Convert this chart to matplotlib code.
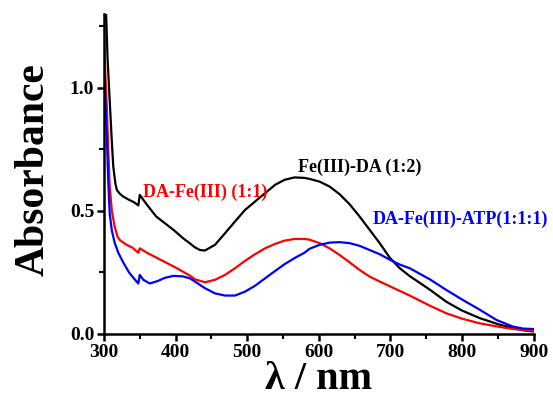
import matplotlib
matplotlib.use("Agg")
import matplotlib.pyplot as plt
from matplotlib.ticker import MultipleLocator

wl_black = [300, 303, 305, 308, 311, 313, 316, 318, 322, 327, 335, 342, 348, 350, 360, 373, 385, 397, 410, 420, 427, 434, 441, 455, 469, 483, 497, 511, 525, 539, 552, 566, 580, 587, 601, 615, 629, 643, 657, 671, 685, 699, 713, 727, 755, 778, 800, 825, 850, 871, 885, 900]
abs_black = [1.6, 1.3, 1.12, 0.95, 0.78, 0.68, 0.61, 0.585, 0.57, 0.558, 0.545, 0.535, 0.522, 0.565, 0.525, 0.477, 0.45, 0.423, 0.39, 0.368, 0.352, 0.341, 0.339, 0.362, 0.409, 0.457, 0.504, 0.538, 0.572, 0.606, 0.626, 0.636, 0.634, 0.63, 0.619, 0.599, 0.568, 0.527, 0.477, 0.423, 0.369, 0.31, 0.267, 0.235, 0.18, 0.131, 0.095, 0.064, 0.04, 0.024, 0.015, 0.01]

wl_red = [300, 302, 304, 306, 308, 311, 315, 319, 322, 330, 340, 348, 350, 360, 380, 400, 420, 427, 441, 455, 469, 483, 497, 511, 525, 539, 552, 566, 580, 587, 601, 615, 629, 643, 657, 671, 685, 699, 713, 727, 755, 778, 800, 825, 850, 871, 900]
abs_red = [1.2, 1.05, 0.92, 0.75, 0.6, 0.5, 0.435, 0.395, 0.382, 0.365, 0.35, 0.33, 0.348, 0.33, 0.3, 0.27, 0.237, 0.222, 0.21, 0.22, 0.24, 0.267, 0.297, 0.324, 0.348, 0.366, 0.379, 0.386, 0.386, 0.383, 0.369, 0.348, 0.321, 0.291, 0.26, 0.233, 0.213, 0.194, 0.175, 0.156, 0.115, 0.084, 0.062, 0.043, 0.03, 0.02, 0.013]

wl_blue = [300, 302, 304, 306, 308, 311, 315, 320, 327, 335, 342, 348, 350, 355, 364, 375, 385, 397, 410, 420, 427, 441, 455, 469, 483, 497, 511, 525, 539, 552, 566, 580, 587, 601, 615, 629, 643, 657, 671, 685, 699, 713, 727, 755, 778, 800, 825, 848, 871, 885, 900]
abs_blue = [1.09, 0.95, 0.8, 0.62, 0.49, 0.42, 0.37, 0.33, 0.29, 0.25, 0.225, 0.205, 0.24, 0.22, 0.205, 0.215, 0.228, 0.236, 0.234, 0.226, 0.213, 0.186, 0.165, 0.156, 0.156, 0.172, 0.196, 0.226, 0.256, 0.283, 0.308, 0.33, 0.346, 0.362, 0.371, 0.373, 0.369, 0.358, 0.341, 0.324, 0.302, 0.282, 0.267, 0.222, 0.179, 0.14, 0.098, 0.057, 0.03, 0.022, 0.02]

labels = ["Fe(III)-DA (1:2)", "DA-Fe(III) (1:1)", "DA-Fe(III)-ATP(1:1:1)"]

plt.rcParams['font.family'] = ['Liberation Serif', 'DejaVu Serif']
plt.rcParams['font.weight'] = 'bold'

W, H = 553, 399
fig = plt.figure(figsize=(W / 100, H / 100), dpi=100)
ax = fig.add_axes([0.188, 0.163, 0.777, 0.802])

lw = 1.6
ax.plot(wl_black, abs_black, color='black', lw=lw)
ax.plot(wl_red, abs_red, color='#ff0000', lw=lw)
ax.plot(wl_blue, abs_blue, color='#0000ff', lw=lw)

ax.set_xlim(300, 900)
ax.set_ylim(0, 1.3)
ax.xaxis.set_major_locator(MultipleLocator(100))
ax.xaxis.set_minor_locator(MultipleLocator(50))
ax.yaxis.set_major_locator(MultipleLocator(0.5))
ax.yaxis.set_minor_locator(MultipleLocator(0.25))
ax.spines['top'].set_visible(False)
ax.spines['right'].set_visible(False)
for s in ('left', 'bottom'):
    ax.spines[s].set_linewidth(1.8)
ax.tick_params(which='major', direction='out', length=5, width=1.8, labelsize=14, pad=2)
ax.tick_params(which='minor', direction='out', length=3.5, width=1.5)
for lab in ax.get_xticklabels() + ax.get_yticklabels():
    lab.set_fontweight('bold')

ax.set_xlabel("λ / nm", fontsize=29, fontweight='bold', labelpad=0)
ax.set_ylabel("Absorbance", fontsize=30, fontweight='bold')
ax.yaxis.set_label_coords(-0.12, 0.515)

fs = 13
ax.text(298, H - 172, labels[0], transform=None, fontsize=fs, fontweight='bold', color='black', va='baseline')
ax.text(143, H - 197, labels[1], transform=None, fontsize=fs, fontweight='bold', color='#ff0000', va='baseline')
ax.text(373, H - 224, labels[2], transform=None, fontsize=fs, fontweight='bold', color='#0000ff', va='baseline')

fig.savefig("out.png", dpi=100)
